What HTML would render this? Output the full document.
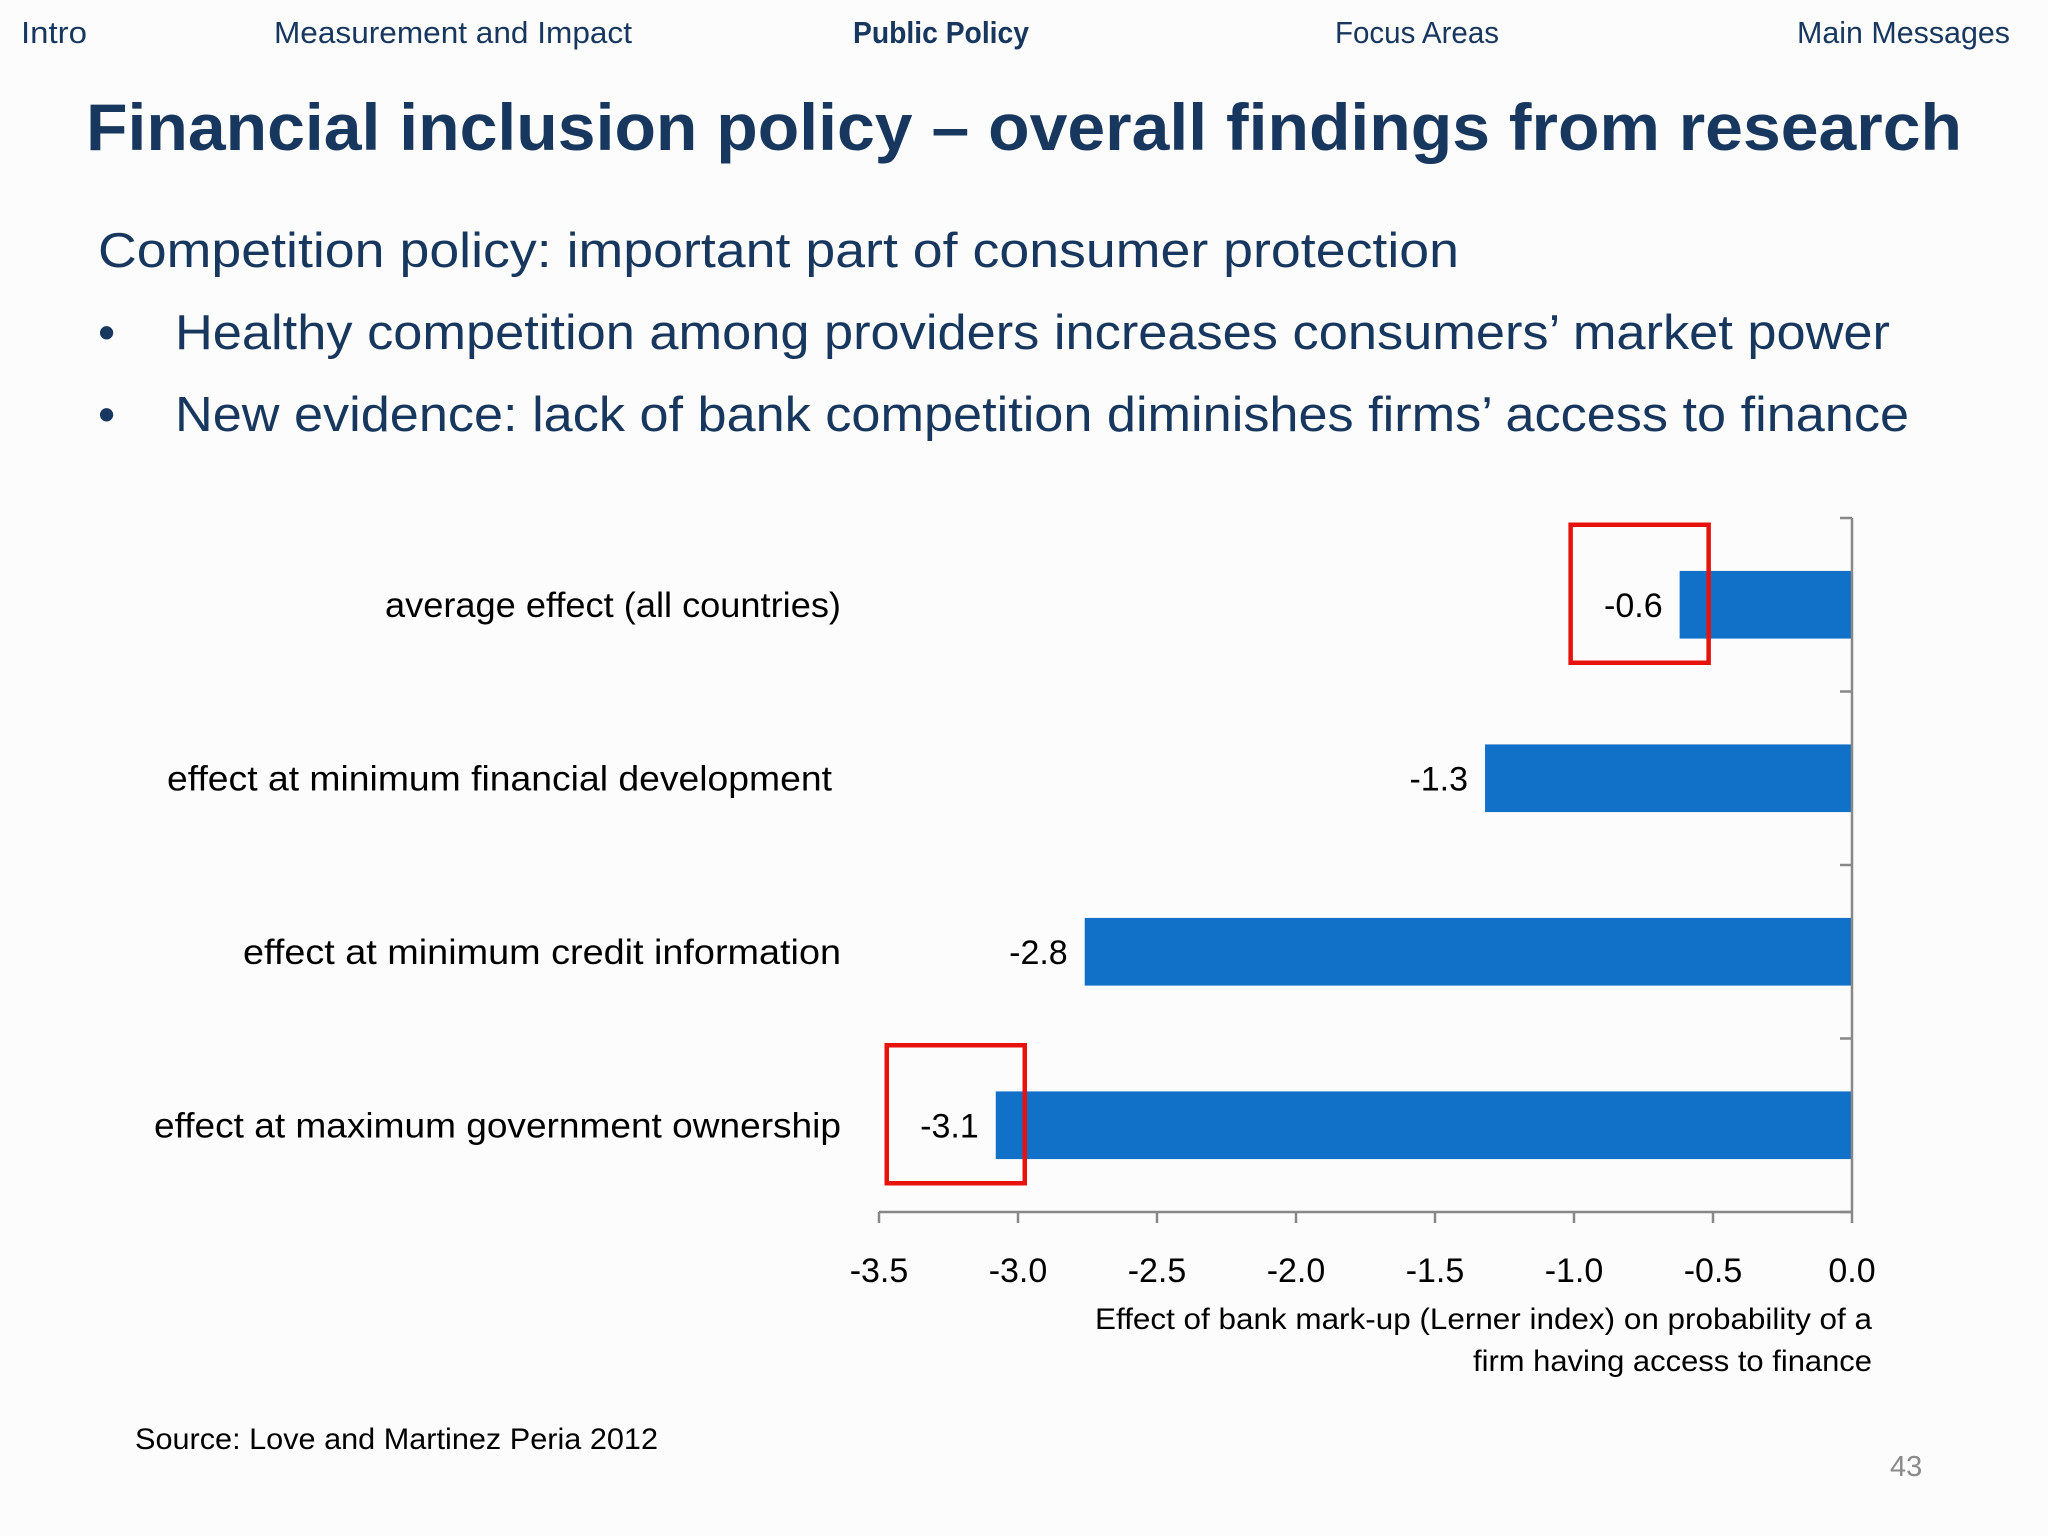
<!DOCTYPE html>
<html><head><meta charset="utf-8"><style>
html,body{margin:0;padding:0;background:#fcfcfc;}
svg{display:block;font-family:"Liberation Sans",sans-serif;}
</style></head><body>
<svg id="chart" width="2048" height="1536" viewBox="0 0 2048 1536">
<rect x="0" y="0" width="2048" height="1536" fill="#fcfcfc"/>
<g fill="#17375e" font-size="31">
<text x="21" y="43" textLength="66" lengthAdjust="spacingAndGlyphs">Intro</text>
<text x="274" y="43" textLength="358" lengthAdjust="spacingAndGlyphs">Measurement and Impact</text>
<text x="853" y="43" font-weight="bold" textLength="176" lengthAdjust="spacingAndGlyphs">Public Policy</text>
<text x="1335" y="43" textLength="164" lengthAdjust="spacingAndGlyphs">Focus Areas</text>
<text x="1797" y="43" textLength="213" lengthAdjust="spacingAndGlyphs">Main Messages</text>
</g>
<text x="86" y="150" fill="#17375e" font-size="66" font-weight="bold" textLength="1876" lengthAdjust="spacingAndGlyphs">Financial inclusion policy – overall findings from research</text>
<text x="98" y="267" fill="#17375e" font-size="49" textLength="1361" lengthAdjust="spacingAndGlyphs">Competition policy: important part of consumer protection</text>
<text x="98" y="349" fill="#17375e" font-size="49">•</text>
<text x="175" y="349" fill="#17375e" font-size="49" textLength="1715" lengthAdjust="spacingAndGlyphs">Healthy competition among providers increases consumers’ market power</text>
<text x="98" y="431" fill="#17375e" font-size="49">•</text>
<text x="175" y="431" fill="#17375e" font-size="49" textLength="1734" lengthAdjust="spacingAndGlyphs">New evidence: lack of bank competition diminishes firms’ access to finance</text>
<g id="plot"></g>
<text x="1872" y="1329" text-anchor="end" font-size="30" fill="#000" textLength="777" lengthAdjust="spacingAndGlyphs">Effect of bank mark-up (Lerner index) on probability of a</text>
<text x="1872" y="1371" text-anchor="end" font-size="30" fill="#000" textLength="399" lengthAdjust="spacingAndGlyphs">firm having access to finance</text>
<text x="135" y="1449" font-size="30" fill="#000" textLength="523" lengthAdjust="spacingAndGlyphs">Source: Love and Martinez Peria 2012</text>
<text x="1890" y="1476" font-size="29" fill="#8a8a8a">43</text>
</svg>
<script>
const categories = ["average effect (all countries)","effect at minimum financial development","effect at minimum credit information","effect at maximum government ownership"];
const barValues = [-0.62, -1.32, -2.76, -3.08];
const valueLabels = ["-0.6","-1.3","-2.8","-3.1"];
const tickValues = [-3.5,-3.0,-2.5,-2.0,-1.5,-1.0,-0.5,0.0];
const tickLabels = ["-3.5","-3.0","-2.5","-2.0","-1.5","-1.0","-0.5","0.0"];
const highlighted = [0, 3];
const labelWidths = [456, 665, 598, 687];
const labelRight = [841, 832, 841, 841];

const NS="http://www.w3.org/2000/svg";
const g=document.getElementById('plot');
const X0=879, X1=1852, Y0=518, Y1=1212;
const band=(Y1-Y0)/categories.length;
function x(v){return X0+(v-(-3.5))/(0-(-3.5))*(X1-X0);}
function yc(i){return Y0+band*(i+0.5);}
function mk(tag,attrs,parent){const e=document.createElementNS(NS,tag);for(const k in attrs)e.setAttribute(k,attrs[k]);(parent||g).appendChild(e);return e;}

categories.forEach((c,i)=>{
  const bh=band*0.39;
  const r=mk('rect',{x:x(barValues[i]),y:yc(i)-bh/2,width:x(0)-x(barValues[i]),height:bh,fill:'#1170c8'});
  
  
  const t=mk('text',{x:labelRight[i]-labelWidths[i],y:yc(i)+12,'font-size':35,fill:'#000',textLength:labelWidths[i],lengthAdjust:'spacingAndGlyphs'});
  t.textContent=c;
  
  
  const v=mk('text',{x:x(barValues[i])-17,y:yc(i)+12,'text-anchor':'end','font-size':34,fill:'#000'});
  v.textContent=valueLabels[i];
  
  
});
highlighted.forEach(i=>{
  const xe=x(barValues[i]);
  const b=mk('rect',{x:xe-109,y:yc(i)-80,width:138,height:138,fill:'none',stroke:'#e8120c','stroke-width':4.5});
  
  
});
const ya=mk('line',{x1:X1,y1:Y0,x2:X1,y2:Y1,stroke:'#888','stroke-width':2.5});


for(let k=0;k<=categories.length;k++){
  const tk=mk('line',{x1:X1-12,y1:Y0+band*k,x2:X1,y2:Y0+band*k,stroke:'#888','stroke-width':2.5});
  
  
}
const xa=mk('line',{x1:X0,y1:Y1,x2:X1,y2:Y1,stroke:'#888','stroke-width':2.5});


tickValues.forEach((tv,i)=>{
  const tk=mk('line',{x1:x(tv),y1:Y1,x2:x(tv),y2:Y1+11,stroke:'#888','stroke-width':2.5});
  
  
  const tl=mk('text',{x:x(tv),y:1282,'text-anchor':'middle','font-size':34,fill:'#000'});
  tl.textContent=tickLabels[i];
  
  
});
</script>
</body></html>
